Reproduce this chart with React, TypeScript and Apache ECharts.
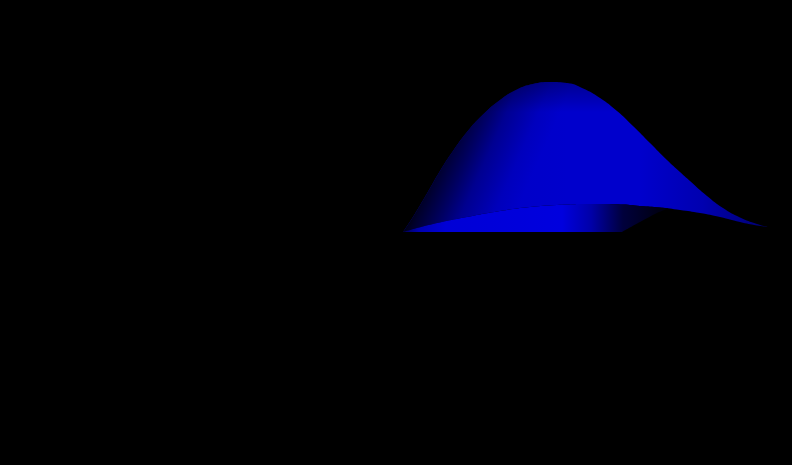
import React, { useEffect, useRef } from "react";
import * as echarts from "echarts";

// Horizontal position and height above the base of each outline
const backSheetX = [403, 413, 427, 440, 453, 467, 483, 500, 517, 533, 550, 567, 583, 600, 617, 633, 650, 667, 680, 690, 707, 723, 740, 757, 768];
const backSheetH = [0, 15, 38.5, 61, 81, 100, 117.5, 132, 142.5, 148, 150, 149, 143.5, 134, 121, 106, 89, 72, 60, 51, 36, 24, 14.5, 8, 5];
const frontEdgeX = [403, 433, 467, 500, 530, 557, 590, 623, 640, 660, 680, 700, 720, 740, 757, 768];
const frontEdgeH = [0, 8, 15, 21, 25, 27, 28, 27.5, 26, 24.5, 22, 19, 15, 10, 6.5, 5];
const frontSheetEndX = 668;
const frontSheetEndH = 23.5;
const undersideX = [622, 640, 657, 668];
const undersideH = [0, 10, 19, 23.5];

const pairs = (xs: number[], ys: number[]) => xs.map((x, i) => [x, ys[i]]);
const frontEnd = frontEdgeX.findIndex((x) => x >= frontSheetEndX);
const frontSheet = [
  ...pairs(frontEdgeX.slice(0, frontEnd), frontEdgeH.slice(0, frontEnd)),
  [frontSheetEndX, frontSheetEndH],
];

const area = (data: number[][], color: any, z: number, smooth = 0.5) => ({
  type: "line",
  data,
  z,
  smooth,
  showSymbol: false,
  silent: true,
  lineStyle: { width: 0 },
  itemStyle: { opacity: 0 },
  areaStyle: { color, opacity: 1 },
});

const grad = (x: number, y: number, x2: number, y2: number, stops: [number, string][], global = false) =>
  new echarts.graphic.LinearGradient(x, y, x2, y2, stops.map(([offset, color]) => ({ offset, color })), global);

export default function App() {
  const ref = useRef<HTMLDivElement>(null);
  useEffect(() => {
    document.body.style.margin = "0";
    document.body.style.background = "#000";
    const chart = echarts.init(ref.current!, null, { renderer: "svg" });
    const back = pairs(backSheetX, backSheetH);
    chart.setOption({
      animation: false,
      backgroundColor: "#000",
      grid: { left: 0, right: 0, top: 0, bottom: 0 },
      xAxis: { type: "value", min: 0, max: 792, show: false },
      yAxis: { type: "value", min: -233, max: 232, show: false },
      series: [
        area(back,
          grad(0, 0, 1, 0, [
            [0, "#0000c0"],
            [0.45, "#0000cc"],
            [0.65, "#0000cc"],
            [0.82, "#0000b0"],
            [1, "#000070"],
          ]), 1),
        area(back,
          grad(425, 175, 515, 215, [
            [0, "rgba(0,0,0,0.95)"],
            [0.1, "rgba(0,0,0,0.78)"],
            [0.34, "rgba(0,0,0,0.48)"],
            [0.5, "rgba(0,0,0,0.27)"],
            [0.8, "rgba(0,0,0,0.06)"],
            [1, "rgba(0,0,0,0)"],
          ], true), 2),
        area(back,
          grad(0, 82, 0, 112, [
            [0, "rgba(0,0,0,0.28)"],
            [1, "rgba(0,0,0,0)"],
          ], true), 3),
        area(pairs(frontEdgeX, frontEdgeH), "#000000", 4),
        area(frontSheet,
          grad(0, 0, 1, 0, [
            [0, "#000050"],
            [0.06, "#0000b0"],
            [0.16, "#0000d6"],
            [0.6, "#0000de"],
            [0.71, "#0000a8"],
            [0.83, "#00003c"],
            [1, "#00000a"],
          ]), 5),
        area(pairs(undersideX, undersideH), "#000000", 6, 0.3),
      ],
    });
    return () => chart.dispose();
  }, []);
  return <div ref={ref} style={{ width: 792, height: 465 }} />;
}
